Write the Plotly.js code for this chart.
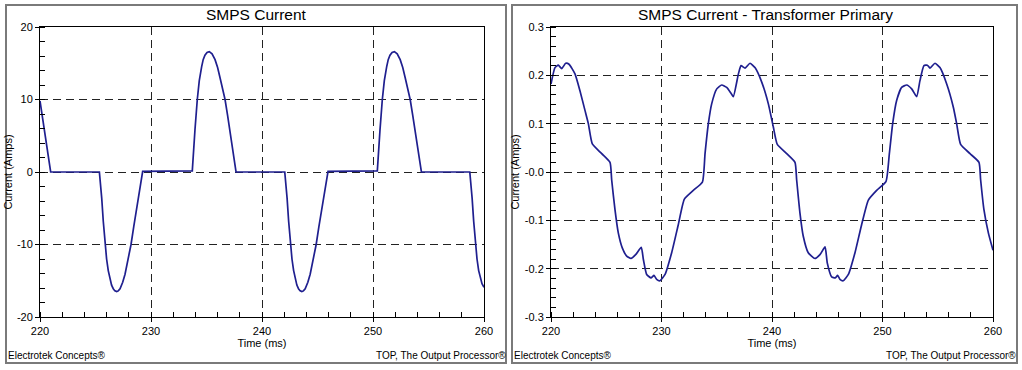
<!DOCTYPE html>
<html>
<head>
<meta charset="utf-8">
<script src="https://cdn.plot.ly/plotly-3.0.1.min.js"></script>
<style>
html,body{margin:0;padding:0;background:#fff;}
#chart{width:1022px;height:370px;}
</style>
</head>
<body>
<div id="chart"></div>
<script>
// ---- Data ----
const smpsTime = [220.00, 220.96, 225.35,
  225.45, 225.56, 225.70, 225.86, 226.00, 226.15, 226.31, 226.45, 226.60, 226.75, 226.91, 227.05, 227.21, 227.45, 227.66, 227.90, 228.20, 228.45, 228.71, 229.00, 229.25,
  233.72, 233.82, 233.96, 234.17, 234.35, 234.56, 234.70, 234.86, 235.05, 235.25, 235.50, 235.77, 236.00, 236.22, 236.45, 236.67, 236.90, 237.12, 237.40, 237.66,
  242.05, 242.15, 242.26, 242.40, 242.55, 242.70, 242.85, 243.00, 243.14, 243.29, 243.44, 243.59, 243.73, 243.89, 244.13, 244.34, 244.58, 244.88, 245.13, 245.39, 245.68, 245.95,
  250.39, 250.49, 250.63, 250.84, 251.02, 251.23, 251.37, 251.53, 251.72, 251.93, 252.18, 252.45, 252.68, 252.90, 253.13, 253.35, 253.58, 253.80, 254.08, 254.36,
  258.72, 258.82, 258.93, 259.07, 259.23, 259.37, 259.52, 259.68, 259.82, 260.00];
const smpsCurrent = [9.8, 0.0, 0.0,
  -1.5, -3.6, -6.8, -10.0, -12.0, -13.6, -14.8, -15.6, -16.1, -16.4, -16.5, -16.4, -16.1, -15.2, -14.1, -12.4, -10.0, -7.5, -4.9, -2.3, 0.1,
  0.15, 2.0, 5.8, 10.0, 12.6, 14.5, 15.5, 16.1, 16.5, 16.6, 16.3, 15.5, 14.4, 13.0, 11.6, 10.0, 7.8, 5.5, 2.8, 0.0,
  0.0, -1.5, -3.6, -6.8, -10.0, -12.0, -13.6, -14.8, -15.6, -16.1, -16.4, -16.5, -16.4, -16.1, -15.2, -14.1, -12.4, -10.0, -7.5, -4.9, -2.3, 0.1,
  0.15, 2.0, 5.8, 10.0, 12.6, 14.5, 15.5, 16.1, 16.5, 16.6, 16.3, 15.5, 14.4, 13.0, 11.6, 10.0, 7.8, 5.5, 2.8, 0.0,
  0.0, -1.5, -3.6, -6.8, -10.0, -12.0, -13.6, -14.8, -15.4, -15.9];

const primTime = [220.00, 220.36, 220.66, 220.97, 221.33, 221.63, 222.17, 222.62, 223.08, 223.38, 223.74, 224.59, 225.34,
  225.49, 225.79, 226.09, 226.45, 226.85, 227.24, 227.66, 228.17, 228.36, 228.66, 229.05, 229.32, 229.56, 229.86,
  230.32, 230.92, 231.52, 232.07, 232.88, 233.70, 233.94, 234.24, 234.54, 235.00, 235.45, 235.90, 236.29, 236.50,
  236.96, 237.20, 237.56, 238.01, 238.46, 239.07, 239.67, 240.12, 240.48, 241.33, 242.08, 242.23, 242.53, 242.83,
  243.28, 243.89, 244.34, 244.80, 245.00, 245.40, 245.73, 245.94, 246.15, 246.45, 246.91, 247.51, 248.11, 248.72,
  249.47, 250.31, 250.62, 250.92, 251.28, 251.73, 252.19, 252.64, 253.09, 253.39, 253.75, 254.06, 254.30, 254.75,
  255.20, 255.81, 256.41, 256.71, 257.07, 257.92, 258.73, 258.88, 259.18, 259.58, 260.00];
const primCurrent = [0.182, 0.216, 0.221, 0.214, 0.225, 0.223, 0.203, 0.168, 0.127, 0.100, 0.058, 0.038, 0.020,
  -0.016, -0.078, -0.126, -0.157, -0.174, -0.179, -0.171, -0.156, -0.181, -0.212, -0.219, -0.214, -0.222, -0.225,
  -0.212, -0.167, -0.109, -0.056, -0.038, -0.021, 0.038, 0.100, 0.141, 0.172, 0.180, 0.175, 0.163, 0.156,
  0.203, 0.220, 0.215, 0.225, 0.216, 0.186, 0.141, 0.093, 0.057, 0.038, 0.020, -0.016, -0.085, -0.133,
  -0.167, -0.179, -0.171, -0.155, -0.188, -0.217, -0.219, -0.214, -0.222, -0.225, -0.212, -0.167, -0.109, -0.058,
  -0.038, -0.020, 0.038, 0.100, 0.148, 0.175, 0.180, 0.172, 0.156, 0.189, 0.220, 0.221, 0.215, 0.225,
  0.216, 0.182, 0.134, 0.100, 0.057, 0.038, 0.020, -0.016, -0.078, -0.126, -0.162];

const xTickVals = [220, 230, 240, 250, 260];
const xTickText = ['220', '230', '240', '250', '260'];
const y1TickVals = [20, 10, 0, -10, -20];
const y1TickText = ['20', '10', '0', '-10', '-20'];
const y2TickVals = [0.3, 0.2, 0.1, 0, -0.1, -0.2, -0.3];
const y2TickText = ['0.3', '0.2', '0.1', '-0.0', '-0.1', '-0.2', '-0.3'];

const titles = ['SMPS Current', 'SMPS Current - Transformer Primary'];
const footLeft = 'Electrotek Concepts®';
const footRight = 'TOP, The Output Processor®';

// ---- Layout geometry ----
const FONT = 'Liberation Sans, Arial, sans-serif';
const L = 40, R = 993, T = 27, B = 317;
const PW = R - L, PH = B - T;
const px = v => (v - L) / PW;
const py = v => (B - v) / PH;

const traces = [
  {x: smpsTime, y: smpsCurrent, type: 'scatter', mode: 'lines',
   line: {color: '#1f1f8f', width: 1.7, shape: 'linear'}, xaxis: 'x', yaxis: 'y', hoverinfo: 'x+y'},
  {x: primTime, y: primCurrent, type: 'scatter', mode: 'lines',
   line: {color: '#1f1f8f', width: 1.7, shape: 'spline', smoothing: 0.5}, xaxis: 'x2', yaxis: 'y2', hoverinfo: 'x+y'}
];

function xAxis(domain, anchor) {
  return {
    domain: domain, anchor: anchor, range: [220, 260],
    tickmode: 'array', tickvals: xTickVals, ticktext: xTickText,
    ticks: 'outside', ticklen: 4, tickcolor: '#000', tickwidth: 1,
    minor: {tickmode: 'linear', tick0: 220, dtick: 2, ticks: 'inside', ticklen: 5, tickcolor: '#000', tickwidth: 1, showgrid: false},
    showgrid: true, gridcolor: '#222', griddash: '8px,5px', gridwidth: 1,
    zeroline: false, showline: true, linecolor: '#000', linewidth: 1, mirror: true,
    tickfont: {family: FONT, size: 11, color: '#000'},
    title: {text: 'Time (ms)', font: {family: FONT, size: 11, color: '#000'}, standoff: 2},
    fixedrange: true
  };
}
function yAxis(range, vals, text, minorDtick, anchor) {
  return {
    domain: [0, 1], anchor: anchor, range: range,
    tickmode: 'array', tickvals: vals, ticktext: text,
    ticks: 'outside', ticklen: 4, tickcolor: '#000', tickwidth: 1,
    minor: {tickmode: 'linear', tick0: range[0], dtick: minorDtick, ticks: 'inside', ticklen: 5, tickcolor: '#000', tickwidth: 1, showgrid: false},
    showgrid: true, gridcolor: '#222', griddash: '8px,5px', gridwidth: 1,
    zeroline: false, showline: true, linecolor: '#000', linewidth: 1, mirror: true,
    tickfont: {family: FONT, size: 11, color: '#000'},
    title: {text: 'Current (Amps)', font: {family: FONT, size: 11, color: '#000'}, standoff: 2},
    fixedrange: true
  };
}

const frameLine = {color: '#7a7a7a', width: 2};
const shapes = [
  {type: 'rect', xref: 'paper', yref: 'paper', x0: px(6), x1: px(506), y0: py(363), y1: py(5), line: frameLine, layer: 'below'},
  {type: 'rect', xref: 'paper', yref: 'paper', x0: px(512), x1: px(1017), y0: py(363), y1: py(5), line: frameLine, layer: 'below'}
];

const annFont = {family: FONT, size: 10, color: '#000'};
const titleFont = {family: FONT, size: 15.5, color: '#000'};
const annotations = [
  {text: titles[0], xref: 'paper', yref: 'paper', x: px(256), y: py(15), xanchor: 'center', yanchor: 'middle', showarrow: false, font: titleFont},
  {text: titles[1], xref: 'paper', yref: 'paper', x: px(765), y: py(15), xanchor: 'center', yanchor: 'middle', showarrow: false, font: titleFont},
  {text: footLeft, xref: 'paper', yref: 'paper', x: px(6), y: py(355), xanchor: 'left', yanchor: 'middle', showarrow: false, font: annFont},
  {text: footRight, xref: 'paper', yref: 'paper', x: px(508), y: py(355), xanchor: 'right', yanchor: 'middle', showarrow: false, font: annFont},
  {text: footLeft, xref: 'paper', yref: 'paper', x: px(512), y: py(355), xanchor: 'left', yanchor: 'middle', showarrow: false, font: annFont},
  {text: footRight, xref: 'paper', yref: 'paper', x: px(1018), y: py(355), xanchor: 'right', yanchor: 'middle', showarrow: false, font: annFont}
];

const layout = {
  width: 1022, height: 370,
  margin: {l: L, r: 1022 - R, t: T, b: 370 - B, pad: 0},
  paper_bgcolor: '#fff', plot_bgcolor: '#fff',
  showlegend: false,
  font: {family: FONT, size: 11, color: '#000'},
  xaxis: xAxis([0, px(484)], 'y'),
  yaxis: yAxis([-20, 20], y1TickVals, y1TickText, 2, 'x'),
  xaxis2: xAxis([px(551), 1], 'y2'),
  yaxis2: yAxis([-0.3, 0.3], y2TickVals, y2TickText, 0.02, 'x2'),
  shapes: shapes,
  annotations: annotations
};

Plotly.newPlot('chart', traces, layout, {displayModeBar: false, staticPlot: true});
</script>
</body>
</html>
